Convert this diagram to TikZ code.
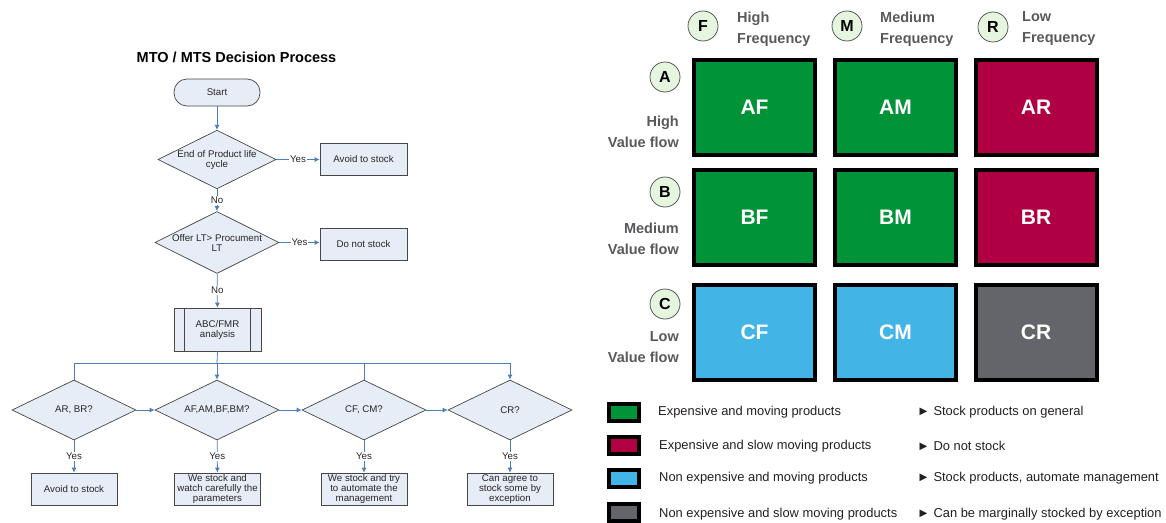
\documentclass[tikz,border=0pt]{standalone}
\usepackage{fontspec}
\setmainfont{Liberation Sans}
\usetikzlibrary{shapes.geometric,arrows.meta}

\definecolor{flowfill}{RGB}{231,237,247}
\definecolor{flowedge}{RGB}{70,70,70}
\definecolor{flowarrow}{RGB}{74,126,192}
\definecolor{cellgreen}{RGB}{0,147,55}
\definecolor{cellred}{RGB}{176,0,67}
\definecolor{cellblue}{RGB}{66,180,230}
\definecolor{cellgray}{RGB}{100,101,106}
\definecolor{headgray}{RGB}{88,89,91}
\definecolor{badgefill}{RGB}{230,245,222}
\definecolor{legendtext}{RGB}{35,31,32}

\tikzset{
  flowtext/.style={font=\fontsize{9.7}{10}\selectfont, text=black!85},
  terminal/.style={flowtext, draw=flowedge, fill=flowfill, line width=0.7pt,
    rounded corners=13pt, minimum width=86pt, minimum height=27pt, inner sep=0pt},
  decision/.style={flowtext, diamond, aspect=2, draw=flowedge, fill=flowfill,
    line width=0.7pt, inner sep=0pt, align=center, minimum width=124pt, minimum height=60pt},
  action/.style={flowtext, draw=flowedge, fill=flowfill, line width=0.7pt,
    minimum width=87pt, minimum height=32pt, inner sep=0pt, align=center},
  predef/.style={flowtext, draw=flowedge, fill=flowfill, line width=0.7pt,
    minimum width=87pt, minimum height=43pt, inner sep=0pt, align=center},
  link/.style={draw=flowarrow, line width=0.8pt},
  flow/.style={link, -{Latex[length=5pt,width=5pt]}},
  answer/.style={flowtext, fill=white, inner sep=1pt},
  cell/.style={draw=black, line width=4pt, minimum width=121pt, minimum height=95pt,
    text=white, font=\fontsize{21}{24}\selectfont\bfseries},
  swatch/.style={draw=black, line width=4pt, minimum width=30pt, minimum height=17pt, inner sep=0pt},
  badge/.style={circle, draw=headgray, fill=badgefill, line width=0.8pt, minimum size=30pt,
    inner sep=0pt, font=\fontsize{16}{18}\selectfont\bfseries},
  heading/.style={text=headgray, font=\fontsize{14.5}{21}\selectfont\bfseries, inner sep=0pt},
  legend/.style={text=legendtext, font=\fontsize{12.9}{15}\selectfont, anchor=west, inner sep=0pt}
}

\begin{document}
\begin{tikzpicture}[x=1pt,y=-1pt]
\useasboundingbox (0,0) rectangle (1166,522);

% ---------- decision flowchart ----------
\node[font=\fontsize{14.5}{17}\selectfont\bfseries] (title) at (236.5,57) {MTO / MTS Decision Process};

\node[terminal] (start) at (217,92.5) {Start};
\node[decision, minimum width=118pt, minimum height=55pt] (eol) at (217,159.5) {End of Product life\\cycle};
\node[action] (avoid1) at (363.5,159) {Avoid to stock};
\node[decision] (offer) at (217,242.5) {Offer LT> Procument\\LT};
\node[action] (nostock) at (363.5,244) {Do not stock};
\node[predef] (abc) at (217.5,329.5) {ABC/FMR\\analysis};
\draw[flowedge, line width=0.7pt] ([xshift=11pt]abc.north west) -- ([xshift=11pt]abc.south west)
  ([xshift=-11pt]abc.north east) -- ([xshift=-11pt]abc.south east);

\node[decision] (arbr) at (74,410) {AR, BR?};
\node[decision] (afam) at (217,410) {AF,AM,BF,BM?};
\node[decision] (cfcm) at (364,410) {CF, CM?};
\node[decision] (cr) at (510,410) {CR?};

\node[action, minimum width=86pt] (avoid2) at (74,489) {Avoid to stock};
\node[action, minimum width=86pt] (watch) at (217.5,489) {We stock and\\watch carefully the\\parameters};
\node[action, minimum width=86pt] (auto) at (364,489) {We stock and try\\to automate the\\management};
\node[action, minimum width=86pt] (except) at (510,489) {Can agree to\\stock some by\\exception};

\draw[flow] (start) -- (eol);
\draw[flow] (eol) -- node[answer] {Yes} (avoid1.west |- eol.east);
\draw[flow] (eol) -- node[answer] {No} (offer);
\draw[flow] (offer) -- node[answer] {Yes} (nostock.west |- offer.east);
\draw[flow] (offer) -- node[answer] {No} (abc);

% split towards the four class checks
\coordinate (split) at (217,363);
\coordinate (splitL) at (74,363);
\coordinate (splitC) at (364,363);
\coordinate (splitR) at (510,363);
\draw[link] (abc.south) -- (split);
\draw[link] (splitL) -- (splitR);
\draw[link] (splitL) -- (arbr.north);
\draw[flow] (split) -- (afam.north);
\draw[link] (splitC) -- (cfcm.north);
\draw[flow] (splitR) -- (cr.north);

\draw[flow] (arbr) -- (afam);
\draw[flow] (afam) -- (cfcm);
\draw[flow] (cfcm) -- (cr);

\draw[flow] (arbr) -- node[answer] {Yes} (avoid2);
\draw[flow] (afam) -- node[answer] {Yes} (watch);
\draw[flow] (cfcm) -- node[answer] {Yes} (auto);
\draw[flow] (cr) -- node[answer] {Yes} (except);

% ---------- ABC / FMR matrix ----------
\node[badge] (bF) at (703,26) {F};
\node[badge] (bM) at (847,26) {M};
\node[badge] (bR) at (993,27) {R};
\node[heading, anchor=west, align=left] (hF) at (737,29) {High\\Frequency};
\node[heading, anchor=west, align=left] (hM) at (880,29) {Medium\\Frequency};
\node[heading, anchor=west, align=left] (hR) at (1022,29) {Low\\Frequency};

\node[badge] (bA) at (665,77) {A};
\node[badge] (bB) at (665,192) {B};
\node[badge] (bC) at (665,304) {C};
\node[heading, anchor=east, align=right] (vA) at (679,132) {High\\Value flow};
\node[heading, anchor=east, align=right] (vB) at (679,238.5) {Medium\\Value flow};
\node[heading, anchor=east, align=right] (vC) at (679,347) {Low\\Value flow};

\node[cell, fill=cellgreen] (AF) at (754.5,107) {AF};
\node[cell, fill=cellgreen] (AM) at (895.5,107) {AM};
\node[cell, fill=cellred]   (AR) at (1036,107) {AR};
\node[cell, fill=cellgreen] (BF) at (754.5,217) {BF};
\node[cell, fill=cellgreen] (BM) at (895.5,217) {BM};
\node[cell, fill=cellred]   (BR) at (1036,217) {BR};
\node[cell, fill=cellblue]  (CF) at (754.5,332) {CF};
\node[cell, fill=cellblue]  (CM) at (895.5,332) {CM};
\node[cell, fill=cellgray]  (CR) at (1036,332) {CR};

% ---------- legend ----------
\node[swatch, fill=cellgreen] (sw1) at (624,412) {};
\node[swatch, fill=cellred]   (sw2) at (624,445) {};
\node[swatch, fill=cellblue]  (sw3) at (624,478) {};
\node[swatch, fill=cellgray]  (sw4) at (624,512) {};
\node[legend] (l1) at (658,412) {Expensive and moving products};
\node[legend] (l2) at (659,446) {Expensive and slow moving products};
\node[legend] (l3) at (659,478) {Non expensive and moving products};
\node[legend] (l4) at (659,514) {Non expensive and slow moving products};
\node[legend] (r1) at (917,412) {► Stock products on general};
\node[legend] (r2) at (917,446) {► Do not stock};
\node[legend] (r3) at (917,478) {► Stock products, automate management};
\node[legend] (r4) at (917,514) {► Can be marginally stocked by exception};
\end{tikzpicture}
\end{document}
